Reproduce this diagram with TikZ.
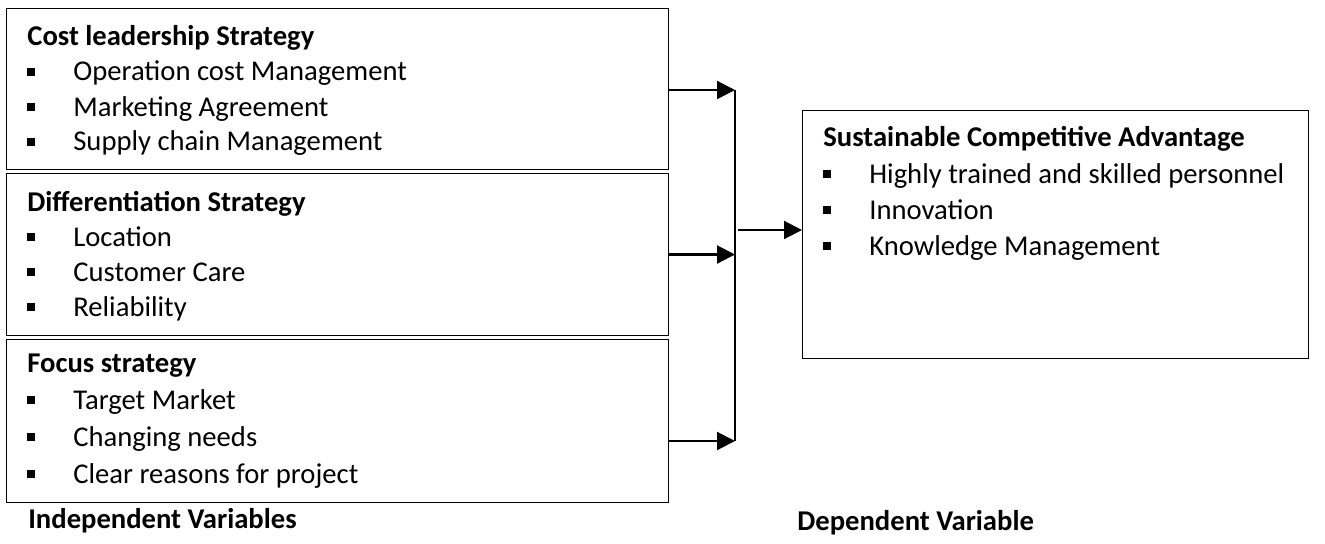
\documentclass[tikz,border=0pt]{standalone}
\usepackage{fontspec}
\setmainfont{Carlito}
\usetikzlibrary{positioning,arrows.meta,calc}
\tikzset{
	strat/.style={draw,rectangle,line width=0.6pt,anchor=north west,inner sep=0pt},
	line/.style={anchor=base west,inner sep=0pt,font=\fontsize{16.3}{19}\selectfont},
	head/.style={line,font=\fontsize{16.3}{19}\selectfont\bfseries},
	link/.style={-{Triangle[length=0.36cm,width=0.36cm]},line width=1.2pt}
}
\newcommand{\sqbullet}{\makebox[0.92cm][l]{\rule[0.1cm]{0.15cm}{0.16cm}}}

\begin{document}
\begin{tikzpicture}[x=0.02cm,y=-0.02cm]
\useasboundingbox (0,0) rectangle (1325,544);

% independent variables
\node[strat,minimum width=13.24cm,minimum height=3.22cm] (cost) at (6,8) {};
\node[strat,minimum width=13.24cm,minimum height=3.24cm] (diff) at (6,173) {};
\node[strat,minimum width=13.24cm,minimum height=3.26cm] (focus) at (6,339) {};

\node[head] (costT) at ($(cost.north west)+(21,38)$) {Cost leadership Strategy};
\foreach \txt [count=\i] in {Operation cost Management,Marketing Agreement,Supply chain Management}
	\node[line] (cost\i) at ($(cost.north west)+(21,38+35*\i)$) {\sqbullet\txt};

\node[head] (diffT) at ($(diff.north west)+(21,38)$) {Differentiation Strategy};
\foreach \txt [count=\i] in {Location,Customer Care,Reliability}
	\node[line] (diff\i) at ($(diff.north west)+(21,38+35*\i)$) {\sqbullet\txt};

\node[head] (focusT) at ($(focus.north west)+(21,33)$) {Focus strategy};
\foreach \txt [count=\i] in {Target Market,Changing needs,Clear reasons for project}
	\node[line] (focus\i) at ($(focus.north west)+(21,33+37*\i)$) {\sqbullet\txt};

% dependent variable
\node[strat,minimum width=10.12cm,minimum height=4.96cm] (sca) at (802,110) {};
\node[head] (scaT) at ($(sca.north west)+(21,37)$) {Sustainable Competitive Advantage};
\foreach \txt [count=\i] in {Highly trained and skilled personnel,Innovation,Knowledge Management}
	\node[line] (sca\i) at ($(sca.north west)+(21,37+36*\i)$) {\sqbullet\txt};

% junction
\coordinate (jtop) at (735,90);
\coordinate (jbot) at (735,441);
\coordinate (jmid) at (738,230);

\draw[link] (cost.east |- jtop) -- (jtop);
\draw[link] (diff.east) -- (diff.east -| jtop);
\draw[link] (focus.east |- jbot) -- (jbot);
\draw[line width=1.2pt] (jtop) -- (jbot);
\draw[link] (jmid) -- (jmid -| sca.west);

\node[head] (indep) at (28,528) {Independent Variables};
\node[head] (dep) at (797,530) {Dependent Variable};
\end{tikzpicture}
\end{document}
